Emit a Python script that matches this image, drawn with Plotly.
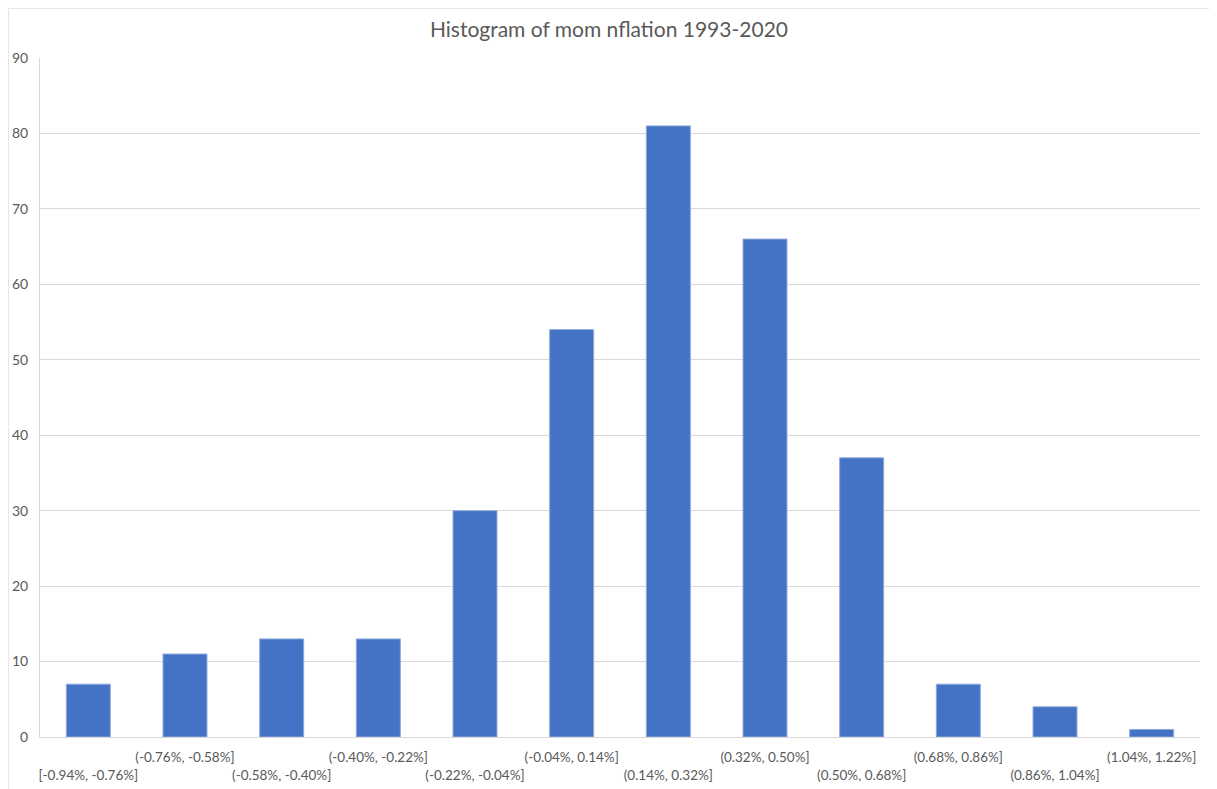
import plotly.graph_objects as go

bins = ["[-0.94%, -0.76%]", "(-0.76%, -0.58%]", "(-0.58%, -0.40%]", "(-0.40%, -0.22%]",
        "(-0.22%, -0.04%]", "(-0.04%, 0.14%]", "(0.14%, 0.32%]", "(0.32%, 0.50%]",
        "(0.50%, 0.68%]", "(0.68%, 0.86%]", "(0.86%, 1.04%]", "(1.04%, 1.22%]"]
counts = [7, 11, 13, 13, 30, 54, 81, 66, 37, 7, 4, 1]
y_ticks = [0, 10, 20, 30, 40, 50, 60, 70, 80, 90]

# staggered tick labels: even index on lower row, odd index on upper row
tick_text = [("<br>" + b) if i % 2 == 0 else b for i, b in enumerate(bins)]

FONT = "Lato, 'Open Sans', sans-serif"
GREY = "#595959"

fig = go.Figure(go.Bar(
    x=bins, y=counts,
    marker=dict(color="#4472C4", line=dict(color="#8FAADC", width=1)),
    hoverinfo="x+y",
))

fig.update_layout(
    width=1217, height=789,
    margin=dict(l=32, r=25, t=50, b=60, autoexpand=False),
    paper_bgcolor="white", plot_bgcolor="white",
    bargap=0.545,
    showlegend=False,
    title=dict(text="Histogram of mom nflation 1993-2020", x=0.4938, xanchor="center",
               y=0.972, yanchor="middle",
               font=dict(family=FONT, size=21, color=GREY)),
    font=dict(family=FONT, color=GREY, size=13),
    xaxis=dict(tickmode="array", tickvals=bins, ticktext=tick_text,
               showgrid=False, showline=True, linecolor="#D9D9D9", linewidth=1,
               ticks="", tickfont=dict(family=FONT, size=13.5, color=GREY),
               tickangle=0, ticklabelstandoff=8, fixedrange=True),
    yaxis=dict(range=[0, 90], tickvals=y_ticks, showgrid=True, gridcolor="#D9D9D9",
               gridwidth=1, zeroline=False, showline=True, linecolor="#D9D9D9",
               linewidth=1, ticks="", tickfont=dict(family=FONT, size=14, color=GREY),
               ticklabelstandoff=8, fixedrange=True),
    shapes=[dict(type="rect", xref="paper", yref="paper",
                 x0=-0.02716, x1=1.00862, y0=-0.2, y1=1.0729,
                 line=dict(color="#E6E6E6", width=1), fillcolor="rgba(0,0,0,0)",
                 layer="below")],
)

fig.write_html("out.html")
